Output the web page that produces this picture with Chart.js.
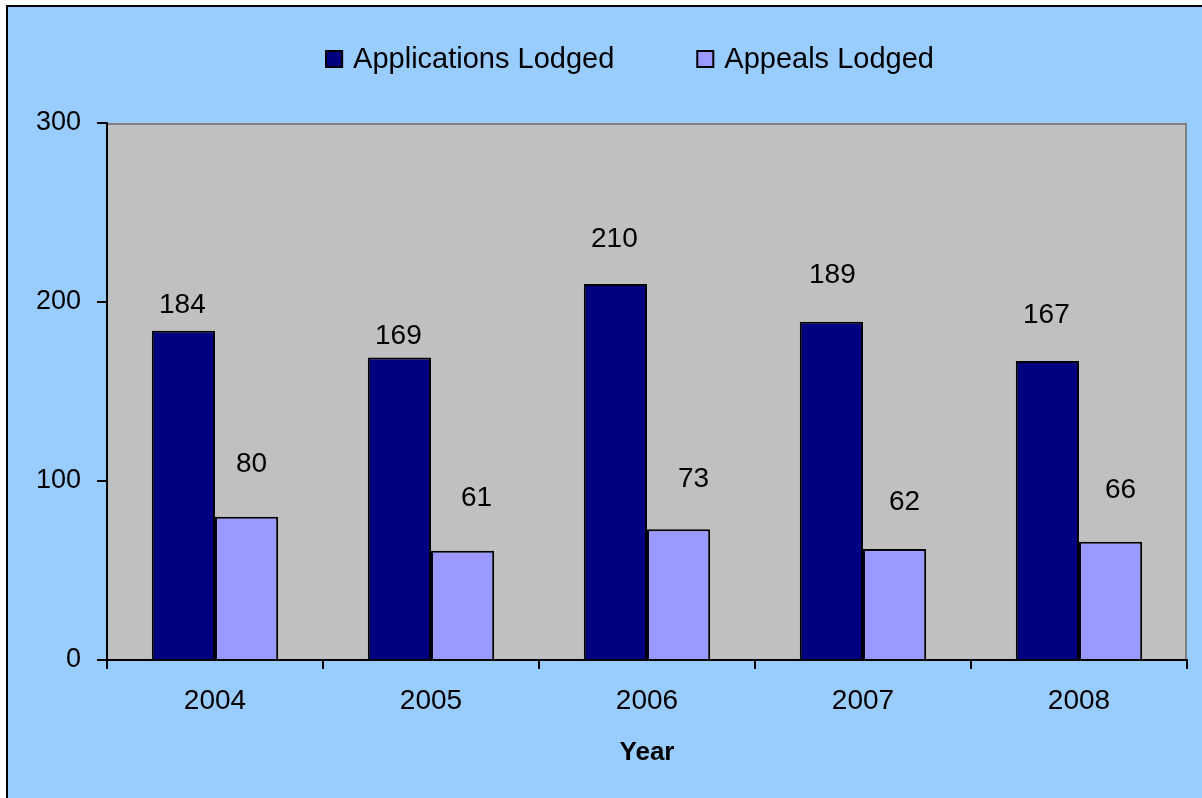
<!DOCTYPE html>
<html>
<head>
<meta charset="utf-8">
<script src="https://cdn.jsdelivr.net/npm/chart.js@4.4.0/dist/chart.umd.min.js"></script>
<style>
  html, body { margin: 0; padding: 0; background: #fff; overflow: hidden; }
  #frame {
    position: absolute; left: 6px; top: 5px;
    width: 1260px; height: 860px;
    border: 2px solid #000; background: #99CCFF;
  }
  #wrap { position: absolute; left: 0; top: 0; width: 1194px; height: 791px; }
</style>
</head>
<body>
<div id="frame"><div id="wrap"><canvas id="chart"></canvas></div></div>
<script>
const years = ['2004', '2005', '2006', '2007', '2008'];
const applicationsLodged = [184, 169, 210, 189, 167];
const appealsLodged = [80, 61, 73, 62, 66];
const seriesNames = ['Applications Lodged', 'Appeals Lodged'];
const seriesColors = ['#000080', '#9999FF'];

// where the value labels sit above each bar (Excel placed some by hand)
const labelLift = [[18, 13, 37, 39, 38], [45, 45, 42, 39, 44]];
const labelShift = [[-1, -1, -1, 1, -1], [5, 14, 15, 10, 10]];

const FONT = "'Liberation Sans', Arial, sans-serif";

const plotBackground = {
  id: 'plotBackground',
  beforeDraw(chart) {
    const { ctx, chartArea: a } = chart;
    ctx.save();
    ctx.fillStyle = '#C0C0C0';
    ctx.fillRect(a.left, a.top, a.right - a.left, a.bottom - a.top);
    ctx.strokeStyle = '#808080';
    ctx.lineWidth = 2;
    ctx.beginPath();
    ctx.moveTo(a.left, a.top + 1);
    ctx.lineTo(a.right - 1, a.top + 1);
    ctx.lineTo(a.right - 1, a.bottom);
    ctx.stroke();
    ctx.restore();
  }
};

const valueLabels = {
  id: 'valueLabels',
  afterDatasetsDraw(chart) {
    const { ctx } = chart;
    ctx.save();
    ctx.font = '28px ' + FONT;
    ctx.fillStyle = '#000';
    ctx.textAlign = 'center';
    ctx.textBaseline = 'alphabetic';
    chart.data.datasets.forEach((ds, i) => {
      chart.getDatasetMeta(i).data.forEach((bar, j) => {
        ctx.fillText(ds.data[j], bar.x + labelShift[i][j], bar.y - labelLift[i][j]);
      });
    });
    ctx.restore();
  }
};

const topLegend = {
  id: 'topLegend',
  afterDraw(chart) {
    const { ctx } = chart;
    const box = 18, gap = 10, between = 82, centerX = 621.5, baseY = 61;
    ctx.save();
    ctx.font = '29px ' + FONT;
    const widths = chart.data.datasets.map(ds => box + gap + ctx.measureText(ds.label).width);
    const total = widths.reduce((s, w) => s + w, 0) + between * (widths.length - 1);
    let x = centerX - total / 2;
    chart.data.datasets.forEach((ds, i) => {
      ctx.fillStyle = ds.backgroundColor;
      ctx.fillRect(x, baseY - 18, box, box);
      ctx.strokeStyle = '#000';
      ctx.lineWidth = 2;
      ctx.strokeRect(x + 1, baseY - 17, box - 2, box - 2);
      ctx.fillStyle = '#000';
      ctx.textBaseline = 'alphabetic';
      ctx.fillText(ds.label, x + box + gap, baseY);
      x += widths[i] + between;
    });
    ctx.restore();
  }
};

new Chart(document.getElementById('chart'), {
  type: 'bar',
  data: {
    labels: years,
    datasets: [
      { label: seriesNames[0], data: applicationsLodged, backgroundColor: seriesColors[0] },
      { label: seriesNames[1], data: appealsLodged, backgroundColor: seriesColors[1] }
    ]
  },
  options: {
    responsive: true,
    maintainAspectRatio: false,
    animation: false,
    layout: { padding: { top: 116, right: 15, left: 0, bottom: 0 } },
    datasets: {
      bar: {
        borderColor: '#000',
        borderWidth: 2,
        categoryPercentage: 0.585,
        barPercentage: 1
      }
    },
    plugins: {
      legend: { display: false },
      tooltip: { enabled: false }
    },
    scales: {
      x: {
        afterFit(scale) { scale.height = 138; },
        grid: { drawOnChartArea: false, drawTicks: true, tickLength: 9, color: '#000', lineWidth: 2, offset: true },
        border: { color: '#000', width: 2 },
        ticks: { color: '#000', padding: 15, font: { family: FONT, size: 28 } },
        title: {
          display: true, text: 'Year', color: '#000',
          font: { family: FONT, size: 26, weight: 'bold' },
          padding: { top: 0, bottom: 30 }
        }
      },
      y: {
        min: 0,
        max: 300,
        afterFit(scale) { scale.width = 99; },
        grid: { drawOnChartArea: false, drawTicks: true, tickLength: 10, color: '#000', lineWidth: 2 },
        border: { color: '#000', width: 2 },
        ticks: { stepSize: 100, color: '#000', padding: 16, font: { family: FONT, size: 27 } }
      }
    }
  },
  plugins: [plotBackground, valueLabels, topLegend]
});
</script>
</body>
</html>
